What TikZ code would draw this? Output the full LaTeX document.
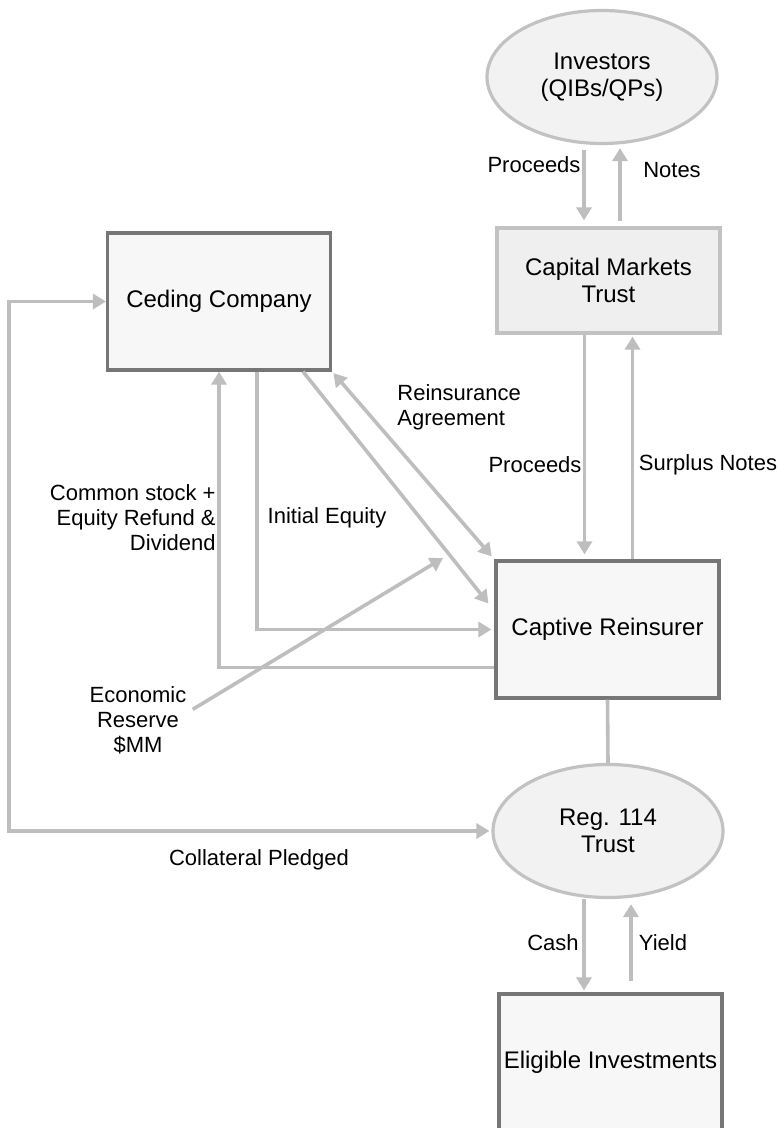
\documentclass[tikz,border=0pt]{standalone}
\usepackage{fontspec}
\setmainfont{Liberation Sans}
\usetikzlibrary{arrows.meta,shapes.geometric}
\definecolor{flowgray}{RGB}{190,190,190}
\definecolor{boxedge}{RGB}{118,118,118}
\definecolor{boxfill}{RGB}{247,247,247}
\definecolor{ovaledge}{RGB}{194,194,194}
\definecolor{ovalfill}{RGB}{242,242,242}
\definecolor{cmtfill}{RGB}{239,239,239}
\tikzset{
    entity/.style={draw=boxedge, fill=boxfill, line width=1.6pt, minimum width=111.5pt, minimum height=68.5pt, inner sep=0pt, align=center, font=\fontsize{12}{13.5}\selectfont},
    trust/.style={ellipse, draw=ovaledge, fill=ovalfill, line width=1.6pt, minimum width=115pt, minimum height=66.5pt, inner sep=0pt, align=center, font=\fontsize{12}{13.5}\selectfont},
    flow/.style={draw=flowgray, line width=1.8pt, >={Triangle[length=6.5pt,width=7.5pt]}, ->},
    lbl/.style={inner sep=0pt, align=center, font=\fontsize{11}{12.5}\selectfont},
}
\begin{document}
\begin{tikzpicture}[x=0.5pt, y=-0.5pt]
    \useasboundingbox (0,0) rectangle (777,1128);
    % parties
    \node[trust] (inv) at (602,77) {Investors\\(QIBs/QPs)};
    \node[entity, draw=ovaledge, fill=cmtfill, minimum height=52.5pt] (cmt) at (608.5,280.5) {Capital Markets\\Trust};
    \node[entity] (ced) at (219,301.5) {Ceding Company};
    \node[entity] (cap) at (607.5,629.5) {Captive Reinsurer};
    \node[trust] (reg) at (608,831) {Reg. 114\\Trust};
    \node[entity] (elig) at (610.5,1062.5) {Eligible Investments};
    \coordinate (lft) at (9,831);
    \coordinate (ertip) at (443,558);

    % labels
    \node[lbl] (pup) at (534,165) {Proceeds};
    \node[lbl] (nup) at (672,170) {Notes};
    \node[lbl, anchor=west, align=left] (reins) at (397,407) {Reinsurance\\Agreement};
    \node[lbl] (plo) at (535,465) {Proceeds};
    \node[lbl] (surp) at (708,465) {Surplus Notes};
    \node[lbl, anchor=east, align=right] (stock) at (216,518) {Common stock +\\Equity Refund \&\\Dividend};
    \node[lbl] (ieq) at (327,518) {Initial Equity};
    \node[lbl] (econ) at (138,720) {Economic\\Reserve\\\$MM};
    \node[lbl] (coll) at (259,860) {Collateral Pledged};
    \node[lbl] (cash) at (553,943) {Cash};
    \node[lbl] (yld) at (663,943) {Yield};

    % flows
    \draw[flow, shorten <=2.5pt, shorten >=3pt] ([xshift=-9pt]inv.south) -- ([xshift=-9pt]inv.south |- cmt.north);
    \draw[flow, shorten <=2.5pt, shorten >=1.5pt] ([xshift=9pt]inv.south |- cmt.north) -- ([xshift=9pt]inv.south);
    \draw[flow, shorten >=2.5pt] ([xshift=-12pt]cmt.south) -- ([xshift=-12pt]cmt.south |- cap.north);
    \draw[flow, shorten >=1pt] ([xshift=12pt]cmt.south |- cap.north) -- ([xshift=12pt]cmt.south);
    \draw[flow, <->, shorten <=1pt, shorten >=2pt] (ced.south east) -- (cap.north west);
    \draw[flow] ([xshift=42pt]ced.south) -- ([xshift=-3pt,yshift=13pt]cap.west);
    \draw[flow, shorten >=1.5pt] ([xshift=19pt]ced.south) |- (cap.west);
    \draw[flow] ([yshift=-19pt]cap.west) -| (ced.south);
    \draw[flow, shorten <=3.5pt] ([yshift=3.5pt]econ.east) -- (ertip);
    \draw[flow, <->, shorten >=1pt] (ced.west) -| (lft) |- (reg.west);
    \draw[flow, -] (cap.south) -- (reg.north);
    \draw[flow, shorten >=1pt] ([xshift=-12pt]reg.south) -- ([xshift=-12pt]reg.south |- elig.north);
    \draw[flow, shorten <=5.5pt, shorten >=2.5pt] ([xshift=11.5pt]reg.south |- elig.north) -- ([xshift=11.5pt]reg.south);
\end{tikzpicture}
\end{document}
